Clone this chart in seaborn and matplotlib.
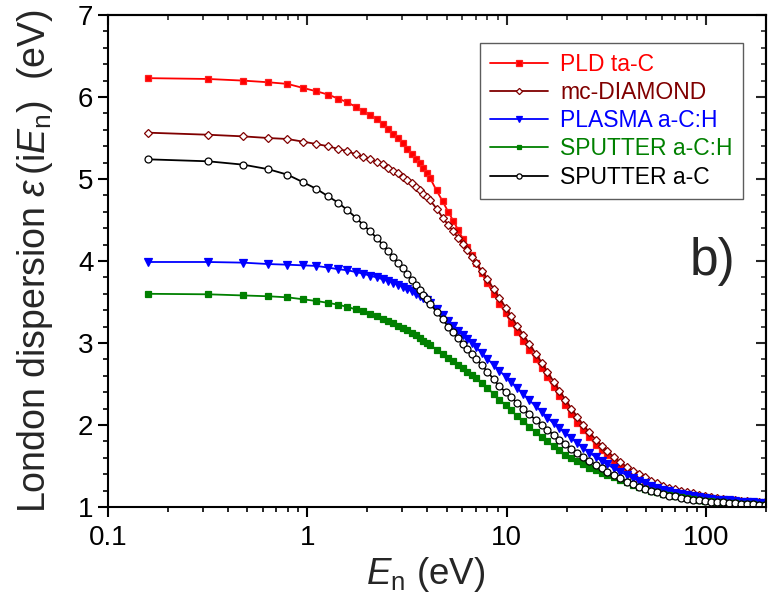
import numpy as np
import seaborn as sns
import matplotlib.pyplot as plt
from matplotlib.ticker import MultipleLocator, LogLocator, NullFormatter

# photon energies E_n (eV)
en = [0.159, 0.318, 0.477, 0.636, 0.795, 0.954, 1.11, 1.27, 1.43, 1.59,
      1.75, 1.91, 2.07, 2.23, 2.39, 2.54, 2.70, 2.86, 3.02, 3.18,
      3.34, 3.50, 3.66, 3.82, 3.97, 4.13, 4.45, 4.77, 5.09, 5.40,
      5.72, 6.04, 6.36, 6.68, 7.00, 7.5, 8.0, 8.6, 9.2, 9.9,
      10.5, 11.3, 12.1, 13.0, 14.0, 15.0, 16.0, 17.2, 18.4, 19.7,
      21.1, 22.6, 24.2, 26.0, 28.0, 30.0, 32.0, 34.5, 37.0, 40.0,
      43.0, 46.0, 49.5, 53.0, 57.0, 61.0, 65.5, 70.0, 75.0, 80.5,
      86.0, 92.0, 99.0, 106, 114, 122, 131, 140, 150, 161,
      172, 185, 198]

pld_tac = [6.23, 6.22, 6.20, 6.18, 6.16, 6.11, 6.07, 6.03, 5.98, 5.935,
           5.88, 5.83, 5.78, 5.73, 5.67, 5.61, 5.55, 5.50, 5.435, 5.37,
           5.31, 5.25, 5.19, 5.13, 5.07, 5.01, 4.86, 4.73, 4.60, 4.49,
           4.375, 4.27, 4.17, 4.075, 3.98, 3.85, 3.73, 3.60, 3.48, 3.36,
           3.25, 3.13, 3.03, 2.92, 2.80, 2.69, 2.58, 2.46, 2.35, 2.24,
           2.13, 2.03, 1.94, 1.85, 1.76, 1.69, 1.63, 1.56, 1.50, 1.44,
           1.39, 1.35, 1.31, 1.28, 1.25, 1.22, 1.20, 1.18, 1.165, 1.15,
           1.14, 1.125, 1.11, 1.10, 1.09, 1.085, 1.08, 1.07, 1.065, 1.06,
           1.055, 1.05, 1.045]

mc_diamond = [5.565, 5.54, 5.52, 5.50, 5.488, 5.455, 5.427, 5.40, 5.366, 5.34,
              5.30, 5.27, 5.24, 5.207, 5.18, 5.14, 5.10, 5.07, 5.03, 4.99,
              4.95, 4.906, 4.866, 4.82, 4.78, 4.74, 4.64, 4.53, 4.44, 4.36,
              4.28, 4.21, 4.13, 4.05, 3.98, 3.88, 3.78, 3.66, 3.55, 3.43,
              3.33, 3.21, 3.10, 2.99, 2.87, 2.76, 2.65, 2.53, 2.42, 2.31,
              2.20, 2.10, 2.00, 1.91, 1.82, 1.75, 1.68, 1.61, 1.55, 1.49,
              1.44, 1.40, 1.36, 1.32, 1.29, 1.26, 1.235, 1.215, 1.195, 1.18,
              1.165, 1.15, 1.135, 1.12, 1.11, 1.10, 1.09, 1.08, 1.075, 1.07,
              1.065, 1.06, 1.055]

plasma_ach = [3.988, 3.988, 3.98, 3.963, 3.955, 3.947, 3.94, 3.92, 3.90, 3.887,
              3.866, 3.845, 3.82, 3.80, 3.777, 3.756, 3.73, 3.707, 3.683, 3.66,
              3.63, 3.60, 3.57, 3.545, 3.52, 3.49, 3.41, 3.34, 3.27, 3.21,
              3.15, 3.10, 3.05, 3.00, 2.95, 2.88, 2.81, 2.73, 2.66, 2.59,
              2.53, 2.45, 2.38, 2.30, 2.23, 2.16, 2.09, 2.02, 1.96, 1.90,
              1.84, 1.78, 1.72, 1.66, 1.61, 1.56, 1.52, 1.47, 1.43, 1.39,
              1.35, 1.32, 1.29, 1.26, 1.235, 1.21, 1.19, 1.175, 1.16, 1.145,
              1.13, 1.12, 1.11, 1.10, 1.09, 1.085, 1.08, 1.07, 1.065, 1.06,
              1.055, 1.05, 1.045]

sputter_ach = [3.60, 3.594, 3.58, 3.57, 3.557, 3.533, 3.512, 3.49, 3.467, 3.44,
               3.41, 3.387, 3.354, 3.325, 3.293, 3.27, 3.24, 3.21, 3.18, 3.155,
               3.126, 3.094, 3.06, 3.03, 3.00, 2.975, 2.92, 2.87, 2.82, 2.78,
               2.73, 2.69, 2.65, 2.61, 2.57, 2.51, 2.45, 2.38, 2.31, 2.24,
               2.18, 2.11, 2.05, 1.98, 1.91, 1.85, 1.80, 1.74, 1.69, 1.64,
               1.60, 1.56, 1.52, 1.48, 1.45, 1.42, 1.39, 1.36, 1.33, 1.30,
               1.27, 1.245, 1.22, 1.20, 1.18, 1.16, 1.145, 1.13, 1.12, 1.105,
               1.095, 1.085, 1.075, 1.07, 1.06, 1.055, 1.05, 1.045, 1.04, 1.037,
               1.034, 1.03, 1.028]

sputter_ac = [5.24, 5.216, 5.175, 5.12, 5.053, 4.96, 4.88, 4.79, 4.71, 4.62,
              4.53, 4.44, 4.36, 4.28, 4.20, 4.12, 4.045, 3.976, 3.91, 3.84,
              3.77, 3.71, 3.65, 3.59, 3.54, 3.48, 3.38, 3.29, 3.20, 3.13,
              3.06, 2.99, 2.93, 2.87, 2.81, 2.73, 2.65, 2.56, 2.47, 2.40,
              2.34, 2.27, 2.20, 2.13, 2.06, 2.00, 1.94, 1.88, 1.82, 1.77,
              1.71, 1.66, 1.61, 1.56, 1.51, 1.47, 1.43, 1.39, 1.35, 1.31,
              1.28, 1.25, 1.22, 1.20, 1.18, 1.16, 1.14, 1.13, 1.115, 1.10,
              1.09, 1.08, 1.07, 1.065, 1.06, 1.055, 1.05, 1.045, 1.04, 1.037,
              1.034, 1.03, 1.028]

sns.set_style("ticks")
plt.rcParams['font.family'] = ['Liberation Sans', 'DejaVu Sans']
plt.rcParams['mathtext.fontset'] = 'custom'
plt.rcParams['mathtext.rm'] = 'Liberation Sans'
plt.rcParams['mathtext.it'] = 'Liberation Sans:italic'

fig = plt.figure(figsize=(7.68, 6.03), dpi=100)
ax = fig.add_axes([0.1406, 0.1592, 0.8568, 0.8159])

common = dict(ax=ax, linewidth=1.3, markeredgewidth=0.9)
sns.lineplot(x=en, y=pld_tac, color='#ff0000', marker='s', markersize=5.0,
             markeredgecolor='#ff2020', label='PLD ta-C', **common)
sns.lineplot(x=en, y=mc_diamond, color='#800000', marker='D', markersize=4.2,
             markeredgecolor='#800000', markerfacecolor='white',
             label='mc-DIAMOND', **common)
sns.lineplot(x=en, y=plasma_ach, color='#0000ff', marker='v', markersize=5.6,
             markeredgecolor='#0000ff', label='PLASMA a-C:H', **common)
sns.lineplot(x=en, y=sputter_ach, color='#008000', marker='s', markersize=4.3,
             markeredgecolor='#008000', label='SPUTTER a-C:H', **common)
sns.lineplot(x=en, y=sputter_ac, color='black', marker='o', markersize=5.0,
             markeredgecolor='black', markerfacecolor='white',
             label='SPUTTER a-C', **common)

ax.set_xscale('log')
ax.set_xlim(0.1, 200)
ax.set_ylim(1, 7)
ax.set_xticks([0.1, 1, 10, 100])
ax.set_xticklabels(['0.1', '1', '10', '100'])
ax.xaxis.set_minor_locator(LogLocator(base=10, subs=np.arange(2, 10) * 1.0, numticks=20))
ax.xaxis.set_minor_formatter(NullFormatter())
ax.yaxis.set_major_locator(MultipleLocator(1))
ax.yaxis.set_minor_locator(MultipleLocator(0.2))

for sp in ax.spines.values():
    sp.set_visible(True)
    sp.set_linewidth(1.5)
    sp.set_color('black')
ax.tick_params(which='major', direction='out', length=7, width=1.5,
               labelsize=20, color='black', labelcolor='black')
ax.tick_params(axis='x', which='major', pad=6)
ax.tick_params(which='minor', direction='out', length=3.5, width=1.2, color='black')

# mirrored ticks pointing inward on top and right
secx = ax.secondary_xaxis('top')
secx.tick_params(which='major', direction='in', length=7, width=1.5, labeltop=False)
secx.tick_params(which='minor', direction='in', length=3.5, width=1.2)
secx.spines['top'].set_linewidth(1.5)
secy = ax.secondary_yaxis('right')
secy.yaxis.set_major_locator(MultipleLocator(1))
secy.yaxis.set_minor_locator(MultipleLocator(0.2))
secy.tick_params(which='major', direction='in', length=7, width=1.5, labelright=False)
secy.tick_params(which='minor', direction='in', length=3.5, width=1.2)
secy.spines['right'].set_linewidth(1.5)

ax.set_xlabel(r'$E_\mathrm{n}$ (eV)', fontsize=26.5)
ax.xaxis.set_label_coords(0.482, -0.097)
ax.set_ylabel(r'London dispersion $\varepsilon\,$(i$E_\mathrm{n}$)  (eV)', fontsize=27)
ax.yaxis.set_label_coords(-0.081, 0.5)

leg = ax.legend(loc='upper right', bbox_to_anchor=(0.965, 0.943), fontsize=16.5,
                frameon=True, fancybox=False, edgecolor='#333333',
                handlelength=2.5, handletextpad=0.55, labelspacing=0.22,
                borderpad=0.45, markerscale=0.75, labelcolor='linecolor',
                borderaxespad=0)
leg.get_frame().set_linewidth(1.0)

ax.text(0.918, 0.498, 'b)', transform=ax.transAxes, fontsize=37,
        ha='center', va='center')

fig.savefig('out.png', dpi=100)
